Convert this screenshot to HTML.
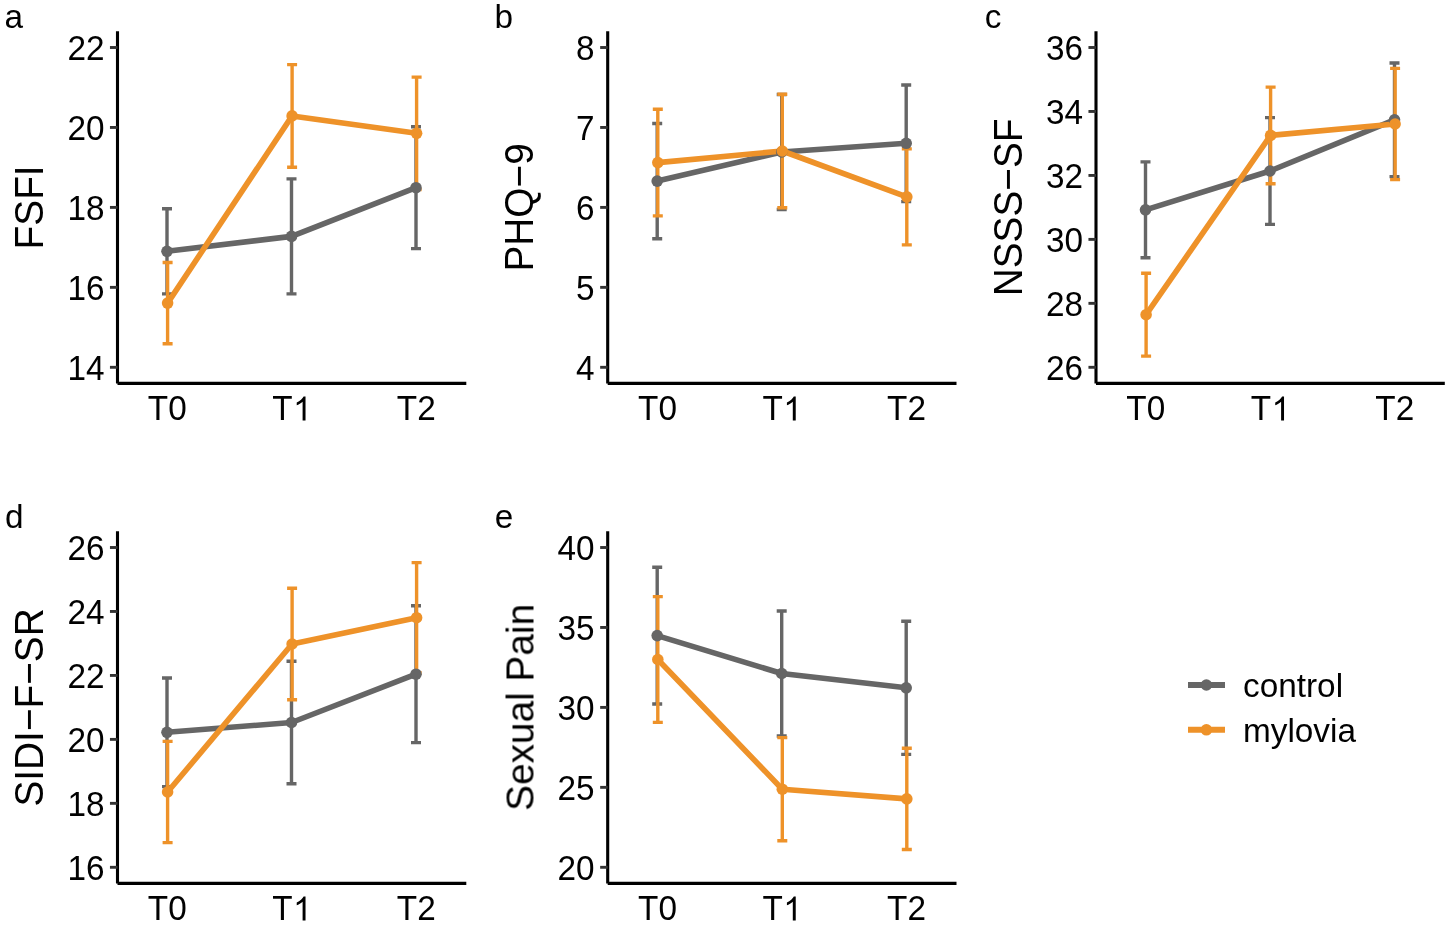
<!DOCTYPE html>
<html><head><meta charset="utf-8"><style>
html,body{margin:0;padding:0;background:#fff;}
svg{display:block;}
text{font-family:"Liberation Sans",sans-serif;fill:#000;}
.tk{font-size:33.33px;}
.ti{font-size:38.8px;}
.lb{font-size:33.33px;}
</style></head><body>
<svg width="1450" height="926" viewBox="0 0 1450 926">
<rect width="1450" height="926" fill="#fff"/>
<line x1="117.5" y1="31.2" x2="117.5" y2="383.4" stroke="#000" stroke-width="3.1"/>
<line x1="117.5" y1="383.4" x2="466.3" y2="383.4" stroke="#000" stroke-width="3.1"/>
<line x1="109.95" y1="367.3" x2="117.5" y2="367.3" stroke="#333" stroke-width="2.9"/>
<line x1="109.95" y1="287.35" x2="117.5" y2="287.35" stroke="#333" stroke-width="2.9"/>
<line x1="109.95" y1="207.4" x2="117.5" y2="207.4" stroke="#333" stroke-width="2.9"/>
<line x1="109.95" y1="127.45" x2="117.5" y2="127.45" stroke="#333" stroke-width="2.9"/>
<line x1="109.95" y1="47.5" x2="117.5" y2="47.5" stroke="#333" stroke-width="2.9"/>
<path transform="translate(293.11,420.4) scale(0.016274,-0.016274)" d="M763 0H583V1147Q518 1085 412 1023Q306 961 222 930V1104Q373 1175 486 1276Q599 1377 646 1472H763Z" fill="#000"/>
<path d="M167 208.7V293.9M162 208.7H172M162 293.9H172" stroke="#666666" stroke-width="3.4" fill="none"/>
<path d="M291.5 178.9V293.9M286.5 178.9H296.5M286.5 293.9H296.5" stroke="#666666" stroke-width="3.4" fill="none"/>
<path d="M416 126.8V248.6M411 126.8H421M411 248.6H421" stroke="#666666" stroke-width="3.4" fill="none"/>
<path d="M167.6 262.5V343.7M162.6 262.5H172.6M162.6 343.7H172.6" stroke="#EE9229" stroke-width="3.4" fill="none"/>
<path d="M292.1 64.6V167.2M287.1 64.6H297.1M287.1 167.2H297.1" stroke="#EE9229" stroke-width="3.4" fill="none"/>
<path d="M416.6 77.1V189.5M411.6 77.1H421.6M411.6 189.5H421.6" stroke="#EE9229" stroke-width="3.4" fill="none"/>
<polyline points="167,251.3 291.5,236.4 416,187.7" stroke="#666666" stroke-width="5.6" fill="none" stroke-linejoin="round"/>
<polyline points="167.6,303.1 292.1,115.9 416.6,133.3" stroke="#EE9229" stroke-width="5.6" fill="none" stroke-linejoin="round"/>
<circle cx="167" cy="251.3" r="5.8" fill="#666666"/>
<circle cx="291.5" cy="236.4" r="5.8" fill="#666666"/>
<circle cx="416" cy="187.7" r="5.8" fill="#666666"/>
<circle cx="167.6" cy="303.1" r="5.8" fill="#EE9229"/>
<circle cx="292.1" cy="115.9" r="5.8" fill="#EE9229"/>
<circle cx="416.6" cy="133.3" r="5.8" fill="#EE9229"/>
<line x1="607.7" y1="31.2" x2="607.7" y2="383.4" stroke="#000" stroke-width="3.1"/>
<line x1="607.7" y1="383.4" x2="956.5" y2="383.4" stroke="#000" stroke-width="3.1"/>
<line x1="600.15" y1="367.3" x2="607.7" y2="367.3" stroke="#333" stroke-width="2.9"/>
<line x1="600.15" y1="287.35" x2="607.7" y2="287.35" stroke="#333" stroke-width="2.9"/>
<line x1="600.15" y1="207.4" x2="607.7" y2="207.4" stroke="#333" stroke-width="2.9"/>
<line x1="600.15" y1="127.45" x2="607.7" y2="127.45" stroke="#333" stroke-width="2.9"/>
<line x1="600.15" y1="47.5" x2="607.7" y2="47.5" stroke="#333" stroke-width="2.9"/>
<path transform="translate(783.31,420.4) scale(0.016274,-0.016274)" d="M763 0H583V1147Q518 1085 412 1023Q306 961 222 930V1104Q373 1175 486 1276Q599 1377 646 1472H763Z" fill="#000"/>
<path d="M657.2 123.5V238.7M652.2 123.5H662.2M652.2 238.7H662.2" stroke="#666666" stroke-width="3.4" fill="none"/>
<path d="M781.7 94.5V209.5M776.7 94.5H786.7M776.7 209.5H786.7" stroke="#666666" stroke-width="3.4" fill="none"/>
<path d="M906.2 85V201.6M901.2 85H911.2M901.2 201.6H911.2" stroke="#666666" stroke-width="3.4" fill="none"/>
<path d="M657.8 109.3V215.9M652.8 109.3H662.8M652.8 215.9H662.8" stroke="#EE9229" stroke-width="3.4" fill="none"/>
<path d="M782.3 94.2V207.8M777.3 94.2H787.3M777.3 207.8H787.3" stroke="#EE9229" stroke-width="3.4" fill="none"/>
<path d="M906.8 148.9V244.9M901.8 148.9H911.8M901.8 244.9H911.8" stroke="#EE9229" stroke-width="3.4" fill="none"/>
<polyline points="657.2,181.1 781.7,152 906.2,143.3" stroke="#666666" stroke-width="5.6" fill="none" stroke-linejoin="round"/>
<polyline points="657.8,162.6 782.3,151 906.8,196.9" stroke="#EE9229" stroke-width="5.6" fill="none" stroke-linejoin="round"/>
<circle cx="657.2" cy="181.1" r="5.8" fill="#666666"/>
<circle cx="781.7" cy="152" r="5.8" fill="#666666"/>
<circle cx="906.2" cy="143.3" r="5.8" fill="#666666"/>
<circle cx="657.8" cy="162.6" r="5.8" fill="#EE9229"/>
<circle cx="782.3" cy="151" r="5.8" fill="#EE9229"/>
<circle cx="906.8" cy="196.9" r="5.8" fill="#EE9229"/>
<line x1="1096" y1="31.2" x2="1096" y2="383.4" stroke="#000" stroke-width="3.1"/>
<line x1="1096" y1="383.4" x2="1444.8" y2="383.4" stroke="#000" stroke-width="3.1"/>
<line x1="1088.45" y1="367.3" x2="1096" y2="367.3" stroke="#333" stroke-width="2.9"/>
<line x1="1088.45" y1="303.34" x2="1096" y2="303.34" stroke="#333" stroke-width="2.9"/>
<line x1="1088.45" y1="239.38" x2="1096" y2="239.38" stroke="#333" stroke-width="2.9"/>
<line x1="1088.45" y1="175.42" x2="1096" y2="175.42" stroke="#333" stroke-width="2.9"/>
<line x1="1088.45" y1="111.46" x2="1096" y2="111.46" stroke="#333" stroke-width="2.9"/>
<line x1="1088.45" y1="47.5" x2="1096" y2="47.5" stroke="#333" stroke-width="2.9"/>
<path transform="translate(1271.61,420.4) scale(0.016274,-0.016274)" d="M763 0H583V1147Q518 1085 412 1023Q306 961 222 930V1104Q373 1175 486 1276Q599 1377 646 1472H763Z" fill="#000"/>
<path d="M1145.5 161.9V257.7M1140.5 161.9H1150.5M1140.5 257.7H1150.5" stroke="#666666" stroke-width="3.4" fill="none"/>
<path d="M1270 117.6V224.4M1265 117.6H1275M1265 224.4H1275" stroke="#666666" stroke-width="3.4" fill="none"/>
<path d="M1394.5 63V176.6M1389.5 63H1399.5M1389.5 176.6H1399.5" stroke="#666666" stroke-width="3.4" fill="none"/>
<path d="M1146.1 273.3V356.1M1141.1 273.3H1151.1M1141.1 356.1H1151.1" stroke="#EE9229" stroke-width="3.4" fill="none"/>
<path d="M1270.6 87.1V183.7M1265.6 87.1H1275.6M1265.6 183.7H1275.6" stroke="#EE9229" stroke-width="3.4" fill="none"/>
<path d="M1395.1 68.4V179.6M1390.1 68.4H1400.1M1390.1 179.6H1400.1" stroke="#EE9229" stroke-width="3.4" fill="none"/>
<polyline points="1145.5,209.8 1270,171 1394.5,119.8" stroke="#666666" stroke-width="5.6" fill="none" stroke-linejoin="round"/>
<polyline points="1146.1,314.7 1270.6,135.4 1395.1,124" stroke="#EE9229" stroke-width="5.6" fill="none" stroke-linejoin="round"/>
<circle cx="1145.5" cy="209.8" r="5.8" fill="#666666"/>
<circle cx="1270" cy="171" r="5.8" fill="#666666"/>
<circle cx="1394.5" cy="119.8" r="5.8" fill="#666666"/>
<circle cx="1146.1" cy="314.7" r="5.8" fill="#EE9229"/>
<circle cx="1270.6" cy="135.4" r="5.8" fill="#EE9229"/>
<circle cx="1395.1" cy="124" r="5.8" fill="#EE9229"/>
<line x1="117.5" y1="531.2" x2="117.5" y2="883.4" stroke="#000" stroke-width="3.1"/>
<line x1="117.5" y1="883.4" x2="466.3" y2="883.4" stroke="#000" stroke-width="3.1"/>
<line x1="109.95" y1="867.3" x2="117.5" y2="867.3" stroke="#333" stroke-width="2.9"/>
<line x1="109.95" y1="803.34" x2="117.5" y2="803.34" stroke="#333" stroke-width="2.9"/>
<line x1="109.95" y1="739.38" x2="117.5" y2="739.38" stroke="#333" stroke-width="2.9"/>
<line x1="109.95" y1="675.42" x2="117.5" y2="675.42" stroke="#333" stroke-width="2.9"/>
<line x1="109.95" y1="611.46" x2="117.5" y2="611.46" stroke="#333" stroke-width="2.9"/>
<line x1="109.95" y1="547.5" x2="117.5" y2="547.5" stroke="#333" stroke-width="2.9"/>
<path transform="translate(293.11,920.4) scale(0.016274,-0.016274)" d="M763 0H583V1147Q518 1085 412 1023Q306 961 222 930V1104Q373 1175 486 1276Q599 1377 646 1472H763Z" fill="#000"/>
<path d="M167 678V786.6M162 678H172M162 786.6H172" stroke="#666666" stroke-width="3.4" fill="none"/>
<path d="M291.5 661.3V783.7M286.5 661.3H296.5M286.5 783.7H296.5" stroke="#666666" stroke-width="3.4" fill="none"/>
<path d="M416 605.8V742.6M411 605.8H421M411 742.6H421" stroke="#666666" stroke-width="3.4" fill="none"/>
<path d="M167.6 741.4V842.6M162.6 741.4H172.6M162.6 842.6H172.6" stroke="#EE9229" stroke-width="3.4" fill="none"/>
<path d="M292.1 588.2V699.8M287.1 588.2H297.1M287.1 699.8H297.1" stroke="#EE9229" stroke-width="3.4" fill="none"/>
<path d="M416.6 562.6V672.8M411.6 562.6H421.6M411.6 672.8H421.6" stroke="#EE9229" stroke-width="3.4" fill="none"/>
<polyline points="167,732.3 291.5,722.5 416,674.2" stroke="#666666" stroke-width="5.6" fill="none" stroke-linejoin="round"/>
<polyline points="167.6,792 292.1,644 416.6,617.7" stroke="#EE9229" stroke-width="5.6" fill="none" stroke-linejoin="round"/>
<circle cx="167" cy="732.3" r="5.8" fill="#666666"/>
<circle cx="291.5" cy="722.5" r="5.8" fill="#666666"/>
<circle cx="416" cy="674.2" r="5.8" fill="#666666"/>
<circle cx="167.6" cy="792" r="5.8" fill="#EE9229"/>
<circle cx="292.1" cy="644" r="5.8" fill="#EE9229"/>
<circle cx="416.6" cy="617.7" r="5.8" fill="#EE9229"/>
<line x1="607.7" y1="531.2" x2="607.7" y2="883.4" stroke="#000" stroke-width="3.1"/>
<line x1="607.7" y1="883.4" x2="956.5" y2="883.4" stroke="#000" stroke-width="3.1"/>
<line x1="600.15" y1="867.3" x2="607.7" y2="867.3" stroke="#333" stroke-width="2.9"/>
<line x1="600.15" y1="787.35" x2="607.7" y2="787.35" stroke="#333" stroke-width="2.9"/>
<line x1="600.15" y1="707.4" x2="607.7" y2="707.4" stroke="#333" stroke-width="2.9"/>
<line x1="600.15" y1="627.45" x2="607.7" y2="627.45" stroke="#333" stroke-width="2.9"/>
<line x1="600.15" y1="547.5" x2="607.7" y2="547.5" stroke="#333" stroke-width="2.9"/>
<path transform="translate(783.31,920.4) scale(0.016274,-0.016274)" d="M763 0H583V1147Q518 1085 412 1023Q306 961 222 930V1104Q373 1175 486 1276Q599 1377 646 1472H763Z" fill="#000"/>
<path d="M657.2 567.2V704M652.2 567.2H662.2M652.2 704H662.2" stroke="#666666" stroke-width="3.4" fill="none"/>
<path d="M781.7 611V736M776.7 611H786.7M776.7 736H786.7" stroke="#666666" stroke-width="3.4" fill="none"/>
<path d="M906.2 621.2V754.4M901.2 621.2H911.2M901.2 754.4H911.2" stroke="#666666" stroke-width="3.4" fill="none"/>
<path d="M657.8 596.6V722.4M652.8 596.6H662.8M652.8 722.4H662.8" stroke="#EE9229" stroke-width="3.4" fill="none"/>
<path d="M782.3 737.6V840.8M777.3 737.6H787.3M777.3 840.8H787.3" stroke="#EE9229" stroke-width="3.4" fill="none"/>
<path d="M906.8 748.3V849.5M901.8 748.3H911.8M901.8 849.5H911.8" stroke="#EE9229" stroke-width="3.4" fill="none"/>
<polyline points="657.2,635.6 781.7,673.5 906.2,687.8" stroke="#666666" stroke-width="5.6" fill="none" stroke-linejoin="round"/>
<polyline points="657.8,659.5 782.3,789.2 906.8,798.9" stroke="#EE9229" stroke-width="5.6" fill="none" stroke-linejoin="round"/>
<circle cx="657.2" cy="635.6" r="5.8" fill="#666666"/>
<circle cx="781.7" cy="673.5" r="5.8" fill="#666666"/>
<circle cx="906.2" cy="687.8" r="5.8" fill="#666666"/>
<circle cx="657.8" cy="659.5" r="5.8" fill="#EE9229"/>
<circle cx="782.3" cy="789.2" r="5.8" fill="#EE9229"/>
<circle cx="906.8" cy="798.9" r="5.8" fill="#EE9229"/>
<line x1="1188" y1="685" x2="1225" y2="685" stroke="#666666" stroke-width="6"/>
<circle cx="1206.4" cy="685" r="5.8" fill="#666666"/>
<line x1="1188" y1="729.8" x2="1225" y2="729.8" stroke="#EE9229" stroke-width="6"/>
<circle cx="1206.4" cy="729.8" r="5.8" fill="#EE9229"/>
<g opacity="0.999">
<text transform="translate(104.45,379.8) scale(1,1.045)" text-anchor="end" class="tk">14</text>
<text transform="translate(104.45,299.85) scale(1,1.045)" text-anchor="end" class="tk">16</text>
<text transform="translate(104.45,219.9) scale(1,1.045)" text-anchor="end" class="tk">18</text>
<text transform="translate(104.45,139.95) scale(1,1.045)" text-anchor="end" class="tk">20</text>
<text transform="translate(104.45,60) scale(1,1.045)" text-anchor="end" class="tk">22</text>
<text transform="translate(167.3,420.4) scale(1,1.045)" text-anchor="middle" class="tk">T0</text>
<text transform="translate(272.35,420.4) scale(1,1.045)" class="tk">T</text>
<text transform="translate(416.3,420.4) scale(1,1.045)" text-anchor="middle" class="tk">T2</text>
<text transform="translate(43,207.4) rotate(-90) scale(1,1.068)" text-anchor="middle" class="ti">FSFI</text>
<text x="4.6" y="27.9" class="lb">a</text>
<text transform="translate(594.65,379.8) scale(1,1.045)" text-anchor="end" class="tk">4</text>
<text transform="translate(594.65,299.85) scale(1,1.045)" text-anchor="end" class="tk">5</text>
<text transform="translate(594.65,219.9) scale(1,1.045)" text-anchor="end" class="tk">6</text>
<text transform="translate(594.65,139.95) scale(1,1.045)" text-anchor="end" class="tk">7</text>
<text transform="translate(594.65,60) scale(1,1.045)" text-anchor="end" class="tk">8</text>
<text transform="translate(657.5,420.4) scale(1,1.045)" text-anchor="middle" class="tk">T0</text>
<text transform="translate(762.55,420.4) scale(1,1.045)" class="tk">T</text>
<text transform="translate(906.5,420.4) scale(1,1.045)" text-anchor="middle" class="tk">T2</text>
<text transform="translate(533.2,207.4) rotate(-90) scale(1,1.068)" text-anchor="middle" class="ti">PHQ−9</text>
<text x="494.5" y="27.9" class="lb">b</text>
<text transform="translate(1082.95,379.8) scale(1,1.045)" text-anchor="end" class="tk">26</text>
<text transform="translate(1082.95,315.84) scale(1,1.045)" text-anchor="end" class="tk">28</text>
<text transform="translate(1082.95,251.88) scale(1,1.045)" text-anchor="end" class="tk">30</text>
<text transform="translate(1082.95,187.92) scale(1,1.045)" text-anchor="end" class="tk">32</text>
<text transform="translate(1082.95,123.96) scale(1,1.045)" text-anchor="end" class="tk">34</text>
<text transform="translate(1082.95,60) scale(1,1.045)" text-anchor="end" class="tk">36</text>
<text transform="translate(1145.8,420.4) scale(1,1.045)" text-anchor="middle" class="tk">T0</text>
<text transform="translate(1250.85,420.4) scale(1,1.045)" class="tk">T</text>
<text transform="translate(1394.8,420.4) scale(1,1.045)" text-anchor="middle" class="tk">T2</text>
<text transform="translate(1021.5,207.4) rotate(-90) scale(1,1.068)" text-anchor="middle" class="ti">NSSS−SF</text>
<text x="984.7" y="27.9" class="lb">c</text>
<text transform="translate(104.45,879.8) scale(1,1.045)" text-anchor="end" class="tk">16</text>
<text transform="translate(104.45,815.84) scale(1,1.045)" text-anchor="end" class="tk">18</text>
<text transform="translate(104.45,751.88) scale(1,1.045)" text-anchor="end" class="tk">20</text>
<text transform="translate(104.45,687.92) scale(1,1.045)" text-anchor="end" class="tk">22</text>
<text transform="translate(104.45,623.96) scale(1,1.045)" text-anchor="end" class="tk">24</text>
<text transform="translate(104.45,560) scale(1,1.045)" text-anchor="end" class="tk">26</text>
<text transform="translate(167.3,920.4) scale(1,1.045)" text-anchor="middle" class="tk">T0</text>
<text transform="translate(272.35,920.4) scale(1,1.045)" class="tk">T</text>
<text transform="translate(416.3,920.4) scale(1,1.045)" text-anchor="middle" class="tk">T2</text>
<text transform="translate(43,707.4) rotate(-90) scale(1,1.068)" text-anchor="middle" class="ti">SIDI−F−SR</text>
<text x="5" y="528.3" class="lb">d</text>
<text transform="translate(594.65,879.8) scale(1,1.045)" text-anchor="end" class="tk">20</text>
<text transform="translate(594.65,799.85) scale(1,1.045)" text-anchor="end" class="tk">25</text>
<text transform="translate(594.65,719.9) scale(1,1.045)" text-anchor="end" class="tk">30</text>
<text transform="translate(594.65,639.95) scale(1,1.045)" text-anchor="end" class="tk">35</text>
<text transform="translate(594.65,560) scale(1,1.045)" text-anchor="end" class="tk">40</text>
<text transform="translate(657.5,920.4) scale(1,1.045)" text-anchor="middle" class="tk">T0</text>
<text transform="translate(762.55,920.4) scale(1,1.045)" class="tk">T</text>
<text transform="translate(906.5,920.4) scale(1,1.045)" text-anchor="middle" class="tk">T2</text>
<text transform="translate(533.2,707.4) rotate(-90) scale(1,1.02)" text-anchor="middle" class="ti">Sexual Pain</text>
<text x="494.8" y="528.3" class="lb">e</text>
<text x="1243" y="696.8" class="tk">control</text>
<text x="1243" y="741.6" class="tk">mylovia</text>
</g>
</svg>
</body></html>
